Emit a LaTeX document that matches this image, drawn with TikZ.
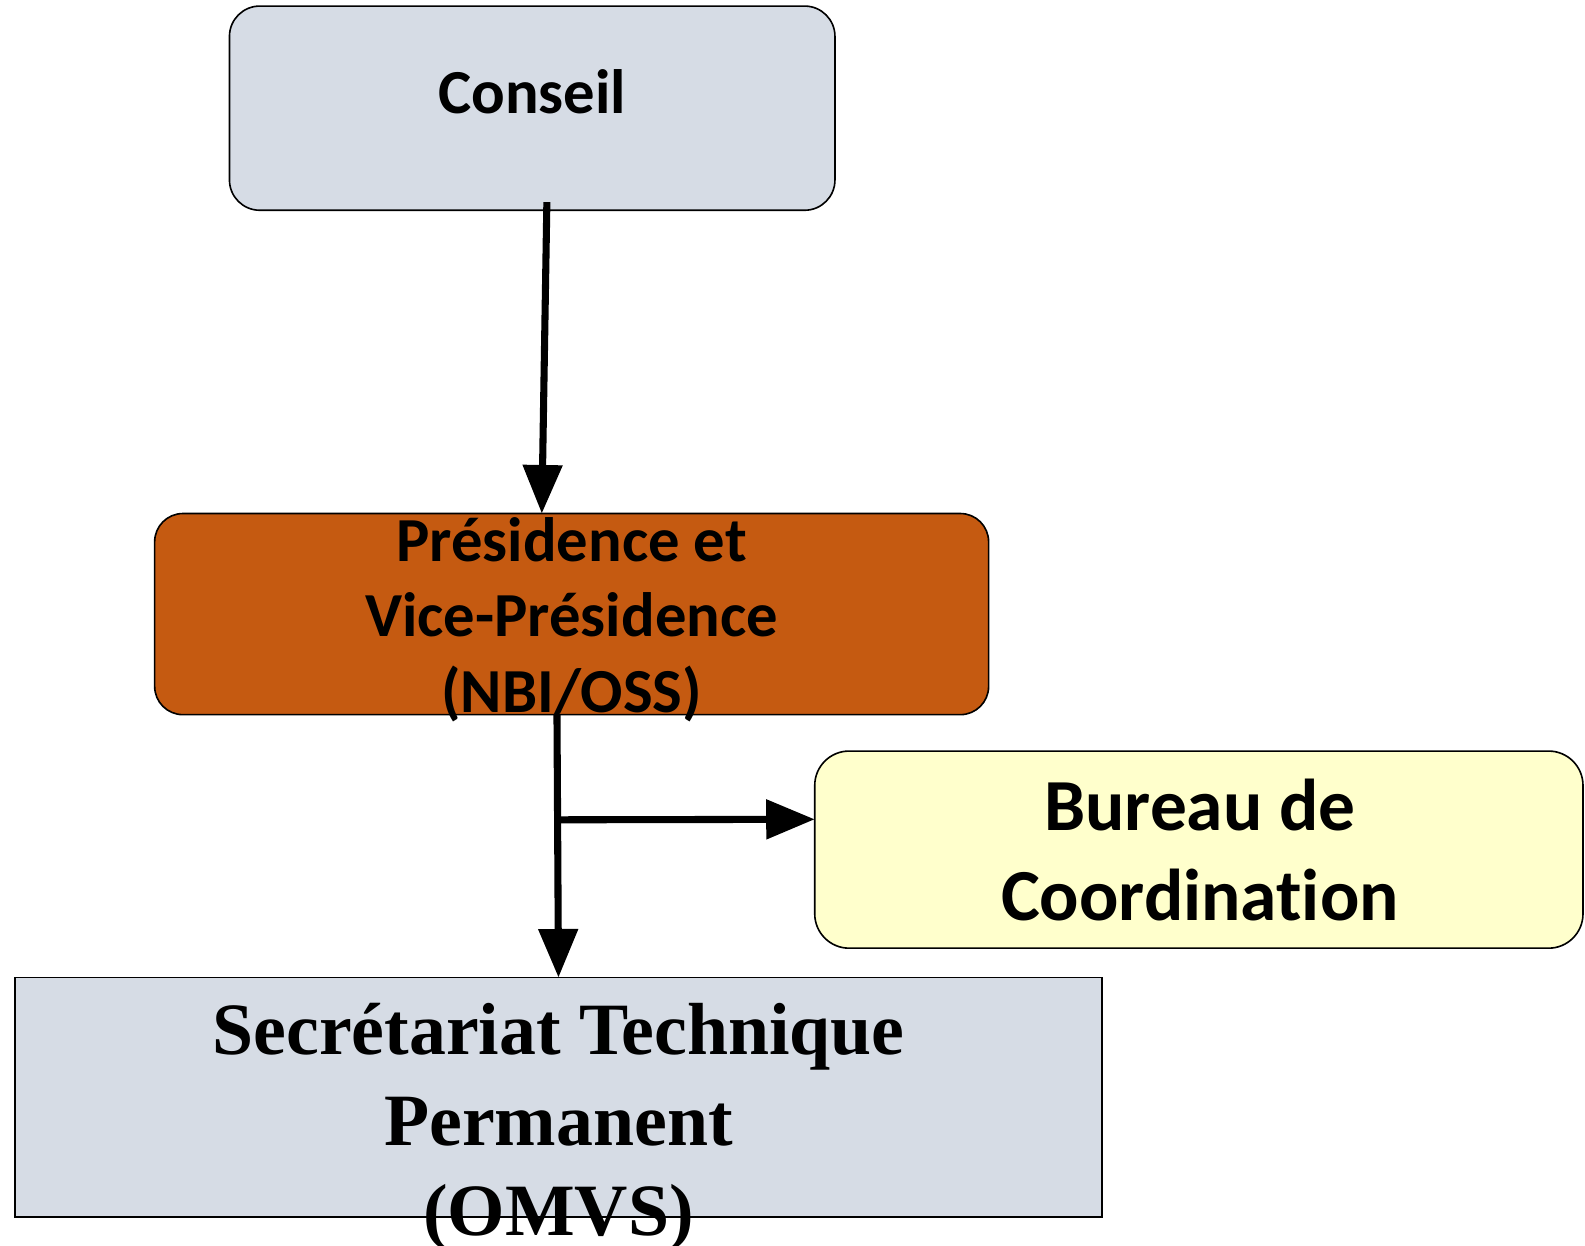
\documentclass[tikz,border=0pt]{standalone}
\usepackage{fontspec}
\setmainfont[Ligatures={NoCommon}]{Carlito}
\newfontfamily\tnrfont{Liberation Serif}
\usetikzlibrary{arrows.meta,calc}
\definecolor{boxgrey}{HTML}{D6DCE5}
\definecolor{presorange}{HTML}{C55A11}
\definecolor{bureauyellow}{HTML}{FFFFCC}
\begin{document}
\begin{tikzpicture}[x=0.5pt,y=-0.5pt,
  box/.style={draw=black, line width=0.8pt, inner sep=0pt, outer sep=0pt},
  lbl/.style={anchor=base, inner sep=0pt, font=\bfseries\fontsize{31}{37}\selectfont},
  bigl/.style={anchor=base, inner sep=0pt, font=\bfseries\fontsize{36.3}{44}\selectfont},
  serifl/.style={anchor=base, inner sep=0pt, font=\tnrfont\bfseries\fontsize{36.5}{44}\selectfont},
  arr/.style={line width=3.5pt, -{Triangle[length=24pt,width=19pt]}}]
\useasboundingbox (0,0) rectangle (1568,1232);
% boxes
\node[box, fill=boxgrey, rounded corners=15pt, minimum width=299.5pt, minimum height=101pt] (conseil) at (526.5,107) {};
\node[box, fill=presorange, rounded corners=14pt, minimum width=412.5pt, minimum height=99.5pt] (pres) at (565.5,607.5) {};
\node[box, fill=bureauyellow, rounded corners=17pt, minimum width=380pt, minimum height=97.5pt] (bureau) at (1186,840.5) {};
\node[box, fill=boxgrey, minimum width=537.5pt, minimum height=118.5pt] (secr) at (552.5,1085.5) {};
% connectors
\draw[arr] ($(conseil.south)+(14.5,-8)$) -- ($(pres.north)+(-29.5,0)$);
\draw[arr] ($(pres.south)+(-14.5,0)$) -- (secr.north);
\coordinate (br) at (553,811);
\draw[arr] (br) -- ($(bureau.west)+(0,-30)$);
% texts
\node[lbl] (tconseil) at (526.5,112) {Conseil};
\node[lbl] (tpres1) at (565.5,555) {Présidence et};
\node[lbl] (tpres2) at (565.5,630) {Vice-Présidence};
\node[lbl] (tpres3) at (565.5,705) {(NBI/OSS)};
\node[bigl] (tbur1) at (1187,822) {Bureau de};
\node[bigl] (tbur2) at (1187,911) {Coordination};
\node[serifl] (tsec1) at (552.5,1043) {Secrétariat Technique};
\node[serifl] (tsec2) at (552.5,1133) {Permanent};
\node[serifl] (tsec3) at (552.5,1222) {(OMVS)};
\end{tikzpicture}
\end{document}
